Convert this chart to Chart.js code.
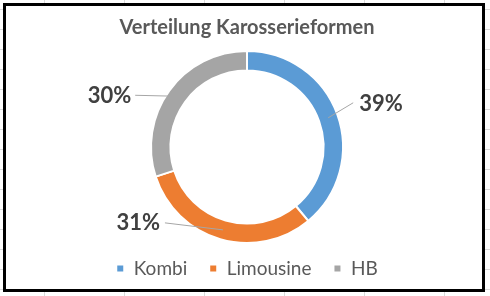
<!DOCTYPE html>
<html>
<head>
<meta charset="utf-8">
<script src="https://cdn.jsdelivr.net/npm/chart.js@4.4.1/dist/chart.umd.min.js"></script>
<style>
  html, body {
    margin: 0;
    padding: 0;
    width: 490px;
    height: 296px;
    overflow: hidden;
  }
  body {
    background-color: #fff;
    background-image: linear-gradient(to right, #dadada 1px, transparent 1px),
      linear-gradient(to bottom, #dadada 1px, transparent 1px);
    background-size: 80px 20px;
    background-position: 44px 9px;
    position: relative;
  }
  #box {
    position: absolute;
    left: 3px;
    top: 3px;
    width: 476px;
    height: 283px;
    border: 3px solid #000;
    background: #fff;
  }
  #chart {
    position: absolute;
    left: 0;
    top: 0;
  }
</style>
</head>
<body>
<div id="box"></div>
<canvas id="chart" width="490" height="296"></canvas>
<script>
// Karosserieformen
var labels = ['Kombi', 'Limousine', 'HB'];
var shares = [39, 31, 30];
var colors = ['#5b9bd5', '#ed7d31', '#a5a5a5'];

// where each percentage label sits relative to the middle of its ring segment
var labelPlace = [
  { line: [25, -15], text: [31, -14], align: 'left' },
  { line: [-58, -7], text: [-63, -7], align: 'right' },
  { line: [-42, -1], text: [-46, 0], align: 'right' }
];

const pctLabels = {
  id: 'pctLabels',
  afterDatasetsDraw(chart) {
    const ctx = chart.ctx;
    const meta = chart.getDatasetMeta(0);
    const total = shares.reduce((a, b) => a + b, 0);
    meta.data.forEach((arc, i) => {
      const p = arc.getProps(['x', 'y', 'startAngle', 'endAngle', 'innerRadius', 'outerRadius'], true);
      const mid = (p.startAngle + p.endAngle) / 2;
      const r = (p.innerRadius + p.outerRadius) / 2;
      const ax = p.x + Math.cos(mid) * r;
      const ay = p.y + Math.sin(mid) * r;
      const pl = labelPlace[i];
      ctx.save();
      ctx.strokeStyle = '#a6a6a6';
      ctx.lineWidth = 1;
      ctx.beginPath();
      ctx.moveTo(ax, ay);
      ctx.lineTo(ax + pl.line[0], ay + pl.line[1]);
      ctx.stroke();
      ctx.fillStyle = '#404040';
      ctx.font = 'bold 22px Lato';
      ctx.textAlign = pl.align;
      ctx.textBaseline = 'middle';
      ctx.fillText(Math.round(shares[i] / total * 100) + '%', ax + pl.text[0], ay + pl.text[1]);
      ctx.restore();
    });
  }
};

new Chart(document.getElementById('chart'), {
  type: 'doughnut',
  data: {
    labels: labels,
    datasets: [
      {
        data: shares,
        backgroundColor: colors,
        borderColor: '#ffffff',
        borderWidth: 2,
        radius: 96,
        cutout: 71
      }
    ]
  },
  options: {
    responsive: false,
    animation: false,
    layout: {
      padding: { left: 4, top: 0, bottom: 8 }
    },
    plugins: {
      title: {
        display: true,
        text: 'Verteilung Karosserieformen',
        color: '#595959',
        font: { family: 'Lato', size: 20, weight: 'bold' },
        padding: { top: 16, bottom: 17 }
      },
      legend: {
        position: 'bottom',
        labels: {
          color: '#595959',
          font: { family: 'Lato', size: 19 },
          boxWidth: 8,
          boxHeight: 8,
          padding: 22
        }
      },
      tooltip: { enabled: false }
    }
  },
  plugins: [pctLabels]
});
</script>
</body>
</html>
